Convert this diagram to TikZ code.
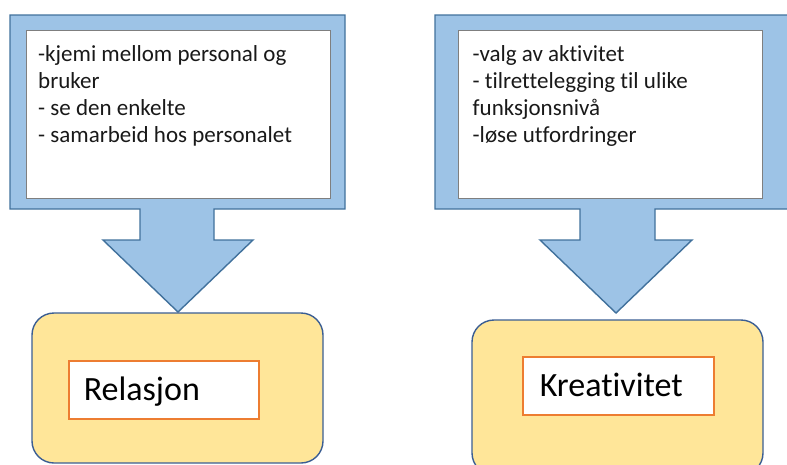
\documentclass[tikz,border=0pt]{standalone}
\usepackage{fontspec}
\setmainfont{Carlito}[Ligatures=NoCommon]
\definecolor{calloutfill}{HTML}{9DC3E6}
\definecolor{calloutline}{HTML}{41719C}
\definecolor{boxyellow}{HTML}{FFE699}
\definecolor{boxline}{HTML}{3B5E93}
\definecolor{labelorange}{HTML}{ED7D31}
\definecolor{innergrey}{HTML}{7F7F7F}
\tikzset{
  callout/.style={fill=calloutfill, draw=calloutline, line width=1.4pt, line join=miter},
  whitebox/.style={draw=innergrey, fill=white, line width=0.9pt, inner sep=0pt},
  listtext/.style={inner sep=0pt, align=left, text=black!90, font=\fontsize{23}{27}\selectfont},
  goalbox/.style={fill=boxyellow, draw=boxline, line width=1.4pt, rounded corners=22pt},
  labelbox/.style={draw=labelorange, fill=white, line width=1.6pt, align=left,
    inner ysep=10pt, text height=30pt, text depth=8pt, font=\fontsize{34}{40}\selectfont}
}
\begin{document}
\begin{tikzpicture}[x=1pt, y=-1pt]
\useasboundingbox (0,0) rectangle (787,464);
\clip (0,0) rectangle (787,464);
% left callout
\coordinate (ltip) at (178,312);
\draw[callout] (10,15) -- (345,15) -- (345,209) -- (214,209) -- (214,240) -- (253,240)
  -- (ltip) -- (103,240) -- (140,240) -- (140,209) -- (10,209) -- cycle;
\node[whitebox, minimum width=304pt, minimum height=168pt, anchor=north west] (lbox) at (26,30) {};
\node[listtext, anchor=north west] (ltext) at (38,45.5)
  {-kjemi mellom personal og\\bruker\\- se den enkelte\\- samarbeid hos personalet};
% right callout
\coordinate (rtip) at (616,313);
\draw[callout] (435,15) -- (795,15) -- (795,209) -- (655,209) -- (655,240) -- (692,240)
  -- (rtip) -- (540,240) -- (580,240) -- (580,209) -- (435,209) -- cycle;
\node[whitebox, minimum width=304pt, minimum height=168pt, anchor=north west] (rbox) at (458,30) {};
\node[listtext, anchor=north west] (rtext) at (472.5,45.5)
  {-valg av aktivitet\\- tilrettelegging til ulike\\funksjonsnivå\\-løse utfordringer};
% bottom boxes
\draw[goalbox] (32,313) rectangle (323,463);
\draw[goalbox] (472,320) rectangle (763,475);
\node[labelbox, anchor=north west, inner xsep=15pt, text width=160pt] (rel) at (68,360) {Relasjon};
\node[labelbox, anchor=north west, inner xsep=17pt, text width=157pt] (kre) at (522,356) {Kreativitet};
\end{tikzpicture}
\end{document}
